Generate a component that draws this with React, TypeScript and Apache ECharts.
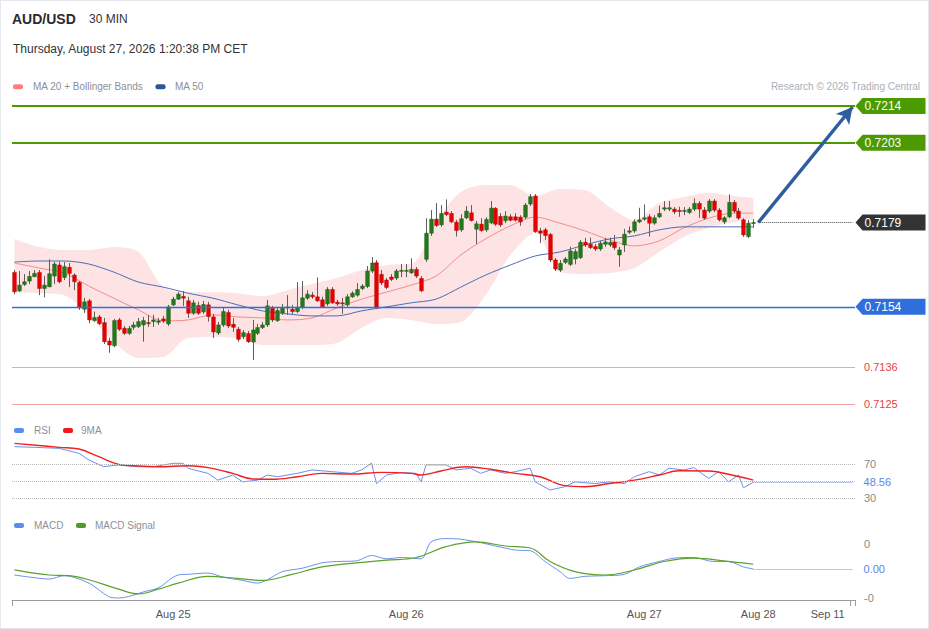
import React, { useEffect, useRef } from "react";
import * as echarts from "echarts";

const FONT = "'Liberation Sans', Arial, Helvetica, sans-serif";

// x slots (30-minute candles plus the projection area on the right)
const SLOT_COUNT = 170;
const DATE_TICKS: [number, string][] = [
  [32, "Aug 25"],
  [79, "Aug 26"],
  [127, "Aug 27"],
  [150, "Aug 28"],
  [164, "Sep 11"],
];

// AUD/USD 30 min candles
const OPEN = [
  0.71643, 0.71588, 0.71607, 0.71617, 0.7163, 0.71643, 0.71595, 0.716, 0.71632, 0.71665,
  0.71628, 0.71658, 0.71635, 0.71613, 0.71533, 0.71558, 0.71499, 0.7151, 0.71493, 0.71438,
  0.71424, 0.71501, 0.71476, 0.71461, 0.71479, 0.71481, 0.71486, 0.71493, 0.71496, 0.71494,
  0.71504, 0.71489, 0.71546, 0.71563, 0.71571, 0.71558, 0.71521, 0.71544, 0.71525, 0.71546,
  0.7151, 0.71462, 0.71486, 0.71523, 0.71488, 0.71473, 0.71451, 0.7146, 0.71435, 0.71461,
  0.71478, 0.71486, 0.71536, 0.71499, 0.71522, 0.71538, 0.71533, 0.71526, 0.71539, 0.71566,
  0.71575, 0.7157, 0.71561, 0.71549, 0.71592, 0.71554, 0.71552, 0.71546, 0.7157, 0.71575,
  0.71595, 0.71601, 0.71647, 0.71672, 0.71637, 0.7162, 0.71629, 0.71626, 0.71647, 0.71647,
  0.71642, 0.71652, 0.71625, 0.71682, 0.7176, 0.71802, 0.71785, 0.71823, 0.71819, 0.71793,
  0.7177, 0.71806, 0.71821, 0.71772, 0.71787, 0.7177, 0.71791, 0.71834, 0.7181, 0.71797,
  0.71809, 0.71809, 0.71808, 0.71808, 0.71847, 0.71871, 0.71767, 0.7177, 0.71756, 0.7168,
  0.7165, 0.71673, 0.71667, 0.71683, 0.71687, 0.71733, 0.71727, 0.7172, 0.71713, 0.71727,
  0.71725, 0.71733, 0.71695, 0.71725, 0.71763, 0.71767, 0.71794, 0.71802, 0.71809, 0.7179,
  0.71809, 0.71832, 0.71832, 0.71832, 0.71828, 0.71826, 0.71822, 0.71832, 0.71849, 0.71829,
  0.71826, 0.71856, 0.71829, 0.71794, 0.71809, 0.71852, 0.71826, 0.718, 0.7175, 0.71789,
];
const HIGH = [
  0.7165, 0.71647, 0.71638, 0.71647, 0.7165, 0.7165, 0.71632, 0.71682, 0.71674, 0.71675,
  0.71674, 0.71671, 0.7164, 0.71617, 0.71567, 0.71564, 0.71526, 0.71516, 0.71507, 0.71447,
  0.71504, 0.71507, 0.71483, 0.71483, 0.71495, 0.71507, 0.7151, 0.71516, 0.71516, 0.71507,
  0.71513, 0.71546, 0.7157, 0.71584, 0.71587, 0.7157, 0.71561, 0.71555, 0.71558, 0.71555,
  0.71519, 0.71495, 0.71537, 0.71531, 0.71507, 0.7148, 0.71471, 0.71468, 0.71501, 0.71489,
  0.71495, 0.71561, 0.71543, 0.71537, 0.71549, 0.71575, 0.71546, 0.71614, 0.71617, 0.7159,
  0.71584, 0.71628, 0.7157, 0.71599, 0.71599, 0.71561, 0.71567, 0.71578, 0.71587, 0.71611,
  0.71608, 0.71662, 0.71689, 0.7168, 0.7165, 0.71626, 0.71638, 0.71653, 0.71668, 0.71668,
  0.71685, 0.71659, 0.71632, 0.71805, 0.71829, 0.7185, 0.71844, 0.71861, 0.71826, 0.718,
  0.71817, 0.71841, 0.71844, 0.71797, 0.71805, 0.71808, 0.71856, 0.71838, 0.7182, 0.71826,
  0.71817, 0.7182, 0.71814, 0.7185, 0.71877, 0.71877, 0.71776, 0.71776, 0.71761, 0.71686,
  0.7168, 0.71689, 0.7172, 0.71713, 0.7174, 0.71746, 0.71747, 0.71728, 0.71737, 0.71746,
  0.71747, 0.71755, 0.71719, 0.71773, 0.7178, 0.71802, 0.71836, 0.71846, 0.71817, 0.71814,
  0.71842, 0.71856, 0.71856, 0.71838, 0.71839, 0.71838, 0.71838, 0.71864, 0.71856, 0.71838,
  0.71862, 0.71862, 0.71835, 0.71811, 0.71876, 0.71859, 0.71835, 0.71805, 0.71799, 0.71802,
];
const LOW = [
  0.71578, 0.71584, 0.71602, 0.71608, 0.71629, 0.71575, 0.71568, 0.71599, 0.71608, 0.7161,
  0.7162, 0.71599, 0.7159, 0.71531, 0.71522, 0.71491, 0.71495, 0.71486, 0.71429, 0.71403,
  0.7142, 0.71468, 0.71456, 0.71456, 0.71471, 0.71477, 0.71436, 0.7148, 0.7148, 0.71486,
  0.71492, 0.71483, 0.71543, 0.71561, 0.71543, 0.71507, 0.71516, 0.71516, 0.71519, 0.71496,
  0.71447, 0.71456, 0.7148, 0.71477, 0.71465, 0.71436, 0.71444, 0.71432, 0.71381, 0.71456,
  0.71474, 0.7148, 0.71495, 0.71495, 0.71516, 0.71516, 0.71519, 0.71522, 0.71533, 0.71561,
  0.71564, 0.71555, 0.71537, 0.71543, 0.71549, 0.71543, 0.71519, 0.7154, 0.71567, 0.7157,
  0.7159, 0.71596, 0.71641, 0.71533, 0.71605, 0.71593, 0.71617, 0.7162, 0.71629, 0.71629,
  0.71638, 0.71626, 0.71584, 0.71674, 0.71752, 0.71779, 0.71779, 0.71811, 0.7179, 0.7175,
  0.71764, 0.71802, 0.71795, 0.71728, 0.71764, 0.71764, 0.71787, 0.71782, 0.71779, 0.7179,
  0.71795, 0.71795, 0.71782, 0.71802, 0.71841, 0.71761, 0.71731, 0.7174, 0.71674, 0.71647,
  0.71644, 0.71668, 0.71662, 0.71667, 0.71683, 0.71719, 0.71713, 0.71707, 0.71707, 0.71719,
  0.71719, 0.7171, 0.7166, 0.71704, 0.71758, 0.71761, 0.7179, 0.71797, 0.7175, 0.71785,
  0.71805, 0.71826, 0.71826, 0.71817, 0.71809, 0.71814, 0.71817, 0.71826, 0.71806, 0.718,
  0.7182, 0.71823, 0.71795, 0.71787, 0.71805, 0.7182, 0.718, 0.71749, 0.71746, 0.71776,
];
const CLOSE = [
  0.71585, 0.71605, 0.71615, 0.71631, 0.7164, 0.71595, 0.71605, 0.71639, 0.71668, 0.71615,
  0.7166, 0.7164, 0.71615, 0.71537, 0.71555, 0.71501, 0.71508, 0.7149, 0.71436, 0.71426,
  0.71499, 0.71473, 0.71461, 0.71476, 0.71486, 0.71496, 0.71499, 0.71492, 0.71501, 0.71498,
  0.71498, 0.7154, 0.71563, 0.71578, 0.71566, 0.71521, 0.71552, 0.71521, 0.71547, 0.71511,
  0.71465, 0.71486, 0.71526, 0.71483, 0.71479, 0.71443, 0.71463, 0.71436, 0.71471, 0.71478,
  0.71486, 0.71543, 0.71501, 0.71529, 0.71538, 0.7154, 0.71526, 0.71539, 0.71567, 0.71578,
  0.7157, 0.71558, 0.7154, 0.71592, 0.71552, 0.71549, 0.7155, 0.7157, 0.71581, 0.71592,
  0.71602, 0.71647, 0.71671, 0.71539, 0.71612, 0.71598, 0.71622, 0.71647, 0.71649, 0.71649,
  0.71652, 0.71632, 0.71588, 0.7176, 0.71802, 0.71783, 0.71819, 0.71816, 0.71794, 0.71768,
  0.71803, 0.71826, 0.71798, 0.71788, 0.71768, 0.71801, 0.71835, 0.71787, 0.71785, 0.71811,
  0.71799, 0.71799, 0.71794, 0.71844, 0.71869, 0.71765, 0.7176, 0.71753, 0.7168, 0.71653,
  0.7167, 0.71683, 0.71707, 0.71705, 0.71733, 0.71725, 0.71717, 0.71713, 0.7173, 0.71734,
  0.71733, 0.71717, 0.7171, 0.71757, 0.71767, 0.71794, 0.718, 0.71806, 0.7179, 0.71806,
  0.71819, 0.71836, 0.71836, 0.71824, 0.71825, 0.71828, 0.71832, 0.71849, 0.71832, 0.71805,
  0.71856, 0.71829, 0.718, 0.71806, 0.71852, 0.71826, 0.71805, 0.71755, 0.7179, 0.71792,
];

// Bollinger bands / moving averages, read every 5 candles
const BAND_IDX = [0, 5, 10, 15, 20, 25, 30, 35, 40, 45, 50, 55, 60, 65, 70, 75, 80, 85, 90, 95, 100, 105, 110, 115, 120, 125, 130, 135, 140, 145, 149];
const BB_UPPER = [0.71743, 0.71719, 0.7171, 0.7171, 0.71719, 0.71704, 0.71599, 0.71584, 0.71584, 0.71581, 0.71572, 0.7159, 0.71608, 0.71626, 0.7165, 0.71665, 0.71668, 0.71794, 0.71883, 0.71904, 0.71904, 0.71871, 0.71892, 0.71889, 0.71838, 0.71799, 0.7185, 0.71868, 0.7188, 0.71871, 0.71865];
const BB_LOWER = [0.71584, 0.71581, 0.71575, 0.71516, 0.71435, 0.71387, 0.7139, 0.71447, 0.7145, 0.71447, 0.71426, 0.71426, 0.71426, 0.71432, 0.71477, 0.71507, 0.71501, 0.71489, 0.71495, 0.71575, 0.71695, 0.71761, 0.71644, 0.71638, 0.71641, 0.71656, 0.71704, 0.71749, 0.71776, 0.71793, 0.71802];
const MA20 = [0.71671, 0.71656, 0.71641, 0.71602, 0.71566, 0.71531, 0.71498, 0.71501, 0.71516, 0.7151, 0.71507, 0.71501, 0.71507, 0.71537, 0.71563, 0.71584, 0.71605, 0.71632, 0.71695, 0.71743, 0.71782, 0.71808, 0.7179, 0.71767, 0.7174, 0.71722, 0.71737, 0.71776, 0.71805, 0.7182, 0.7182];
const MA50 = [0.71674, 0.71677, 0.71677, 0.71668, 0.71644, 0.71614, 0.71599, 0.71581, 0.71566, 0.71546, 0.71528, 0.71519, 0.71513, 0.71513, 0.71528, 0.7154, 0.71552, 0.71563, 0.71599, 0.71635, 0.71665, 0.71692, 0.71704, 0.71725, 0.71743, 0.71752, 0.7177, 0.71779, 0.71779, 0.71779, 0.71779];

// RSI panel
const RSI_IDX = [0, 4, 9, 13, 15, 18, 21, 25, 28, 32, 34, 35, 39, 41, 44, 46, 49, 51, 53, 57, 60, 64, 68, 70, 72, 73, 75, 78, 81, 82, 83, 87, 89, 92, 94, 96, 99, 101, 104, 105, 108, 111, 113, 117, 120, 123, 125, 128, 130, 132, 135, 137, 140, 142, 144, 146, 147, 149];
const RSI_VAL = [90.4, 89.6, 88.4, 82.6, 74.7, 66.9, 68.8, 66.8, 66.8, 70.8, 70.8, 65, 59, 51, 57, 49, 51, 57, 55, 59, 63, 61, 59, 63, 71, 47, 57, 60, 59, 49, 69, 69, 63, 65, 59, 63, 59, 61, 65, 49, 39.4, 43.3, 49, 47, 49, 47, 55, 61, 57, 65, 63, 65.7, 53, 61, 49, 57, 42, 48.56];
const RSI_MA_IDX = [0, 9, 13, 17, 21, 25, 29, 35, 39, 44, 48, 52, 57, 62, 68, 74, 80, 82, 86, 91, 96, 101, 106, 111, 115, 120, 125, 130, 134, 140, 144, 149];
const RSI_MA_VAL = [94.3, 89.6, 87.6, 78.6, 69.6, 67.6, 66.8, 68, 65.7, 59, 52.4, 52, 55, 59, 58.2, 60.2, 59, 57, 61.8, 66.8, 63.8, 59, 55, 44.5, 43.3, 47, 51, 57, 62, 61.8, 57.9, 51];
const RSI_LEVELS = [70, 50, 30];
const RSI_TICKS = [30, 70];

// MACD panel
const MACD_IDX = [0, 3, 7, 10, 15, 19, 21, 23, 26, 29, 33, 35, 39, 42, 46, 49, 51, 54, 58, 62, 65, 69, 72, 75, 78, 82, 84, 87, 90, 94, 97, 101, 104, 107, 110, 112, 115, 119, 123, 126, 130, 133, 137, 141, 144, 147, 149];
const MACD_VAL = [-0.00006, -0.00009, -0.00012, -0.00007, -0.00018, -0.00038, -0.0004, -0.00038, -0.00031, -0.00025, -0.00006, -0.00005, -0.00003, -0.00009, -0.00014, -0.00018, -0.00013, -0.00001, 0.00004, 0.00012, 0.00014, 0.00015, 0.00023, 0.00018, 0.0002, 0.00018, 0.00043, 0.00048, 0.00047, 0.00042, 0.00037, 0.00031, 0.0003, 0.00014, -0.00001, -0.00011, -0.00008, -0.00007, -0.00005, 0.00006, 0.00014, 0.00019, 0.0002, 0.00014, 0.00014, 0.00006, 0.00003];
const SIGNAL_IDX = [0, 7, 11, 15, 21, 25, 29, 33, 39, 45, 50, 56, 62, 69, 75, 81, 87, 93, 99, 104, 108, 113, 119, 125, 131, 137, 143, 149];
const SIGNAL_VAL = [0.000015, -0.00006, -0.00007, -0.00013, -0.00027, -0.00034, -0.00027, -0.00018, -0.00008, -0.00011, -0.00014, -0.00005, 0.00006, 0.00012, 0.00016, 0.0002, 0.00036, 0.00043, 0.00037, 0.00034, 0.00014, -0.00001, -0.00006, 0.000015, 0.00014, 0.00019, 0.00015, 0.0001];
const MACD_TICKS = [-0.0004, 0.0004];

// key levels
const RESISTANCES = [0.7214, 0.7203];
const PIVOT = 0.7154;
const SUPPORTS = [0.7136, 0.7125];
const TARGET = 0.7214;

const GREEN_LEVEL = "#4a9a00";
const BLUE_LEVEL = "#2f6fdc";
const CANDLE_UP = "#237a1b";
const CANDLE_DOWN = "#e60000";
const WICK = "#5e5e5e";
const TAG_PATH = "path://M0,8L7,0L70,0L70,16L7,16Z";

const pairs = (idx: number[], vals: number[]) => idx.map((x, k) => [x, vals[k]]);

function buildOption(): any {
  const categories = Array.from({ length: SLOT_COUNT }, (_, i) => {
    const t = DATE_TICKS.find((d) => d[0] === i);
    return t ? t[1] : "";
  });
  const lastIndex = CLOSE.length - 1;
  const lastPrice = CLOSE[lastIndex];
  const futureEnd = SLOT_COUNT - 1;
  const rsiLast = RSI_VAL[RSI_VAL.length - 1];
  const macdLast = MACD_VAL[MACD_VAL.length - 1];
  const candleData = OPEN.map((o, i) => [i, o, CLOSE[i], LOW[i], HIGH[i]]);

  const baseX = (gi: number) => ({
    type: "category",
    gridIndex: gi,
    data: categories,
    boundaryGap: true,
    axisLine: { show: false, onZero: false },
    axisTick: { show: false },
    axisLabel: { show: false },
    splitLine: { show: false },
  });

  const renderCandle = (params: any, api: any) => {
    const i = api.value(0);
    const o = api.value(1);
    const c = api.value(2);
    const l = api.value(3);
    const h = api.value(4);
    const pO = api.coord([i, o]);
    const pC = api.coord([i, c]);
    const pL = api.coord([i, l]);
    const pH = api.coord([i, h]);
    const bw = api.size([1, 0])[0] * 0.74;
    const x = Math.round(pO[0]) + 0.5;
    const top = Math.min(pO[1], pC[1]);
    const height = Math.max(Math.abs(pO[1] - pC[1]), 1);
    const up = c >= o;
    return {
      type: "group",
      children: [
        { type: "line", shape: { x1: x, y1: pH[1], x2: x, y2: pL[1] }, style: { stroke: WICK, lineWidth: 1 } },
        {
          type: "rect",
          shape: { x: x - bw / 2, y: top, width: bw, height },
          style: { fill: up ? CANDLE_UP : CANDLE_DOWN, stroke: up ? "#1a5c14" : "#b80000", lineWidth: 0.5 },
        },
      ],
    };
  };

  const txt = (text: string, x: number, y: number, size: number, fill: string, extra: any = {}) => ({
    type: "text",
    x,
    y,
    silent: true,
    style: { text, fill, fontSize: size, fontFamily: FONT, verticalAlign: "middle", align: "left", ...extra },
  });
  const swatch = (x: number, y: number, fill: string) => ({
    type: "rect",
    x,
    y,
    silent: true,
    shape: { x: 0, y: 0, width: 10, height: 5, r: 2 },
    style: { fill },
  });

  const tag = (price: number, color: string) => ({
    coord: [futureEnd, price],
    itemStyle: { color },
    label: { formatter: price.toFixed(4) },
  });

  const levelLines = [
    ...RESISTANCES.map((r) => ({ yAxis: r, lineStyle: { color: GREEN_LEVEL, width: 2, type: "solid" } })),
    { yAxis: PIVOT, lineStyle: { color: BLUE_LEVEL, width: 1.4, type: "solid" } },
    ...SUPPORTS.map((s) => ({
      yAxis: s,
      lineStyle: { color: "#f5a3a3", width: 1, type: "solid" },
      label: {
        show: true,
        position: "end",
        distance: 9,
        formatter: s.toFixed(4),
        color: "#e5443f",
        fontSize: 11,
        fontFamily: FONT,
      },
    })),
    [
      { coord: [lastIndex + 1, lastPrice], lineStyle: { color: "#444", width: 1, type: "dotted" } },
      { coord: [futureEnd, lastPrice] },
    ],
    [
      { coord: [lastIndex + 1, lastPrice], lineStyle: { color: "#2d5f9e", width: 3.5, type: "solid" } },
      { coord: [futureEnd - 0.2, TARGET - 0.00003], symbol: "arrow", symbolSize: [13, 16] },
    ],
  ];

  return {
    animation: false,
    backgroundColor: "#ffffff",
    textStyle: { fontFamily: FONT },
    grid: [
      { left: 12, top: 99.3, width: 843, height: 314.7 },
      { left: 12, top: 438.5, width: 843, height: 76.5 },
      { left: 12, top: 530, width: 843, height: 70 },
    ],
    xAxis: [
      baseX(0),
      baseX(1),
      {
        ...baseX(2),
        axisLine: { show: true, onZero: false, lineStyle: { color: "#9c9c9c", width: 1 } },
        axisTick: {
          show: true,
          length: 6,
          interval: (i: number) => i === 0 || i === SLOT_COUNT - 1,
          lineStyle: { color: "#9c9c9c" },
        },
        axisLabel: { show: true, interval: 0, color: "#555", fontSize: 11, margin: 8, fontFamily: FONT },
      },
    ],
    yAxis: [
      {
        type: "value",
        gridIndex: 0,
        min: 0.7122,
        max: 0.7216,
        axisLine: { show: false },
        axisTick: { show: false },
        axisLabel: { show: false },
        splitLine: { show: false },
      },
      {
        type: "value",
        gridIndex: 1,
        min: 10,
        max: 100,
        position: "right",
        axisLine: { show: false },
        axisTick: { show: false },
        splitLine: { show: false },
        axisLabel: { customValues: RSI_TICKS, color: "#888", fontSize: 11, margin: 9, fontFamily: FONT },
      },
      {
        type: "value",
        gridIndex: 2,
        min: -0.00043,
        max: 0.000607,
        position: "right",
        axisLine: { show: false },
        axisTick: { show: false },
        splitLine: { show: false },
        axisLabel: {
          customValues: MACD_TICKS,
          formatter: (v: number) => v.toFixed(0),
          color: "#888",
          fontSize: 11,
          margin: 9,
          fontFamily: FONT,
        },
      },
    ],
    series: [
      {
        name: "BB lower",
        type: "line",
        xAxisIndex: 0,
        yAxisIndex: 0,
        data: pairs(BAND_IDX, BB_LOWER),
        stack: "bb",
        smooth: 0.3,
        symbol: "none",
        silent: true,
        lineStyle: { opacity: 0 },
        z: 1,
      },
      {
        name: "BB width",
        type: "line",
        xAxisIndex: 0,
        yAxisIndex: 0,
        data: pairs(BAND_IDX, BB_UPPER.map((u, k) => u - BB_LOWER[k])),
        stack: "bb",
        smooth: 0.3,
        symbol: "none",
        silent: true,
        lineStyle: { opacity: 0 },
        areaStyle: { color: "#fde3e3", opacity: 1 },
        z: 1,
      },
      {
        name: "MA 20 + Bollinger Bands",
        type: "line",
        xAxisIndex: 0,
        yAxisIndex: 0,
        data: pairs(BAND_IDX, MA20),
        smooth: 0.3,
        symbol: "none",
        silent: true,
        lineStyle: { color: "#f28b8b", width: 1 },
        z: 2,
      },
      {
        name: "MA 50",
        type: "line",
        xAxisIndex: 0,
        yAxisIndex: 0,
        data: pairs(BAND_IDX, MA50),
        smooth: 0.3,
        symbol: "none",
        silent: true,
        lineStyle: { color: "#4a6db3", width: 1 },
        z: 2,
        markLine: {
          silent: true,
          z: 6,
          precision: 6,
          symbol: ["none", "none"],
          label: { show: false },
          data: levelLines,
        },
        markPoint: {
          silent: true,
          z: 7,
          symbol: TAG_PATH,
          symbolSize: [70, 16],
          symbolOffset: [38, 0],
          label: {
            show: true,
            position: [9, 8],
            align: "left",
            verticalAlign: "middle",
            color: "#ffffff",
            fontSize: 12,
            fontFamily: FONT,
          },
          data: [
            tag(RESISTANCES[0], GREEN_LEVEL),
            tag(RESISTANCES[1], GREEN_LEVEL),
            tag(lastPrice, "#333333"),
            tag(PIVOT, BLUE_LEVEL),
          ],
        },
      },
      {
        name: "AUD/USD",
        type: "custom",
        xAxisIndex: 0,
        yAxisIndex: 0,
        data: candleData,
        encode: { x: 0, y: [1, 2, 3, 4] },
        renderItem: renderCandle,
        silent: true,
        z: 3,
      },
      {
        name: "RSI",
        type: "line",
        xAxisIndex: 1,
        yAxisIndex: 1,
        data: pairs(RSI_IDX, RSI_VAL),
        symbol: "none",
        silent: true,
        lineStyle: { color: "#6a92ea", width: 1 },
        z: 3,
        markLine: {
          silent: true,
          precision: 4,
          symbol: ["none", "none"],
          label: { show: false },
          data: [
            ...RSI_LEVELS.map((v) => ({ yAxis: v, lineStyle: { color: "#b8b8b8", width: 1, type: "dotted" } })),
            [
              { coord: [lastIndex, rsiLast], lineStyle: { color: "#6a92ea", width: 1, type: "dotted" } },
              {
                coord: [futureEnd, rsiLast],
                label: {
                  show: true,
                  position: "end",
                  distance: 11,
                  formatter: rsiLast.toFixed(2),
                  color: "#5a86e6",
                  fontSize: 11,
                  fontFamily: FONT,
                },
              },
            ],
          ],
        },
      },
      {
        name: "9MA",
        type: "line",
        xAxisIndex: 1,
        yAxisIndex: 1,
        data: pairs(RSI_MA_IDX, RSI_MA_VAL),
        smooth: 0.4,
        symbol: "none",
        silent: true,
        lineStyle: { color: "#f02020", width: 1.4 },
        z: 4,
      },
      {
        name: "MACD",
        type: "line",
        xAxisIndex: 2,
        yAxisIndex: 2,
        data: pairs(MACD_IDX, MACD_VAL),
        smooth: 0.3,
        symbol: "none",
        silent: true,
        lineStyle: { color: "#6a92ea", width: 1 },
        z: 3,
        markLine: {
          silent: true,
          precision: 8,
          symbol: ["none", "none"],
          label: { show: false },
          data: [
            [
              { coord: [lastIndex, macdLast], lineStyle: { color: "#6a92ea", width: 1, type: "dotted" } },
              {
                coord: [futureEnd, macdLast],
                label: {
                  show: true,
                  position: "end",
                  distance: 11,
                  formatter: macdLast.toFixed(2),
                  color: "#5a86e6",
                  fontSize: 11,
                  fontFamily: FONT,
                },
              },
            ],
          ],
        },
      },
      {
        name: "MACD Signal",
        type: "line",
        xAxisIndex: 2,
        yAxisIndex: 2,
        data: pairs(SIGNAL_IDX, SIGNAL_VAL),
        smooth: 0.4,
        symbol: "none",
        silent: true,
        lineStyle: { color: "#5aa02a", width: 1.2 },
        z: 4,
      },
    ],
    graphic: [
      txt("AUD/USD", 12, 19, 14, "#2b2b2b", { fontWeight: "bold" }),
      txt("30 MIN", 89, 19, 12, "#333"),
      txt("Thursday, August 27, 2026 1:20:38 PM CET", 13, 48.5, 12, "#333"),
      swatch(13, 84.3, "#ff7f7f"),
      txt("MA 20 + Bollinger Bands", 33, 86.7, 10, "#8b909c"),
      swatch(155.5, 84.3, "#2f5597"),
      txt("MA 50", 175, 86.7, 10, "#8b909c"),
      txt("Research \u00a9 2026 Trading Central", 920, 86.7, 10, "#a9afb7", { align: "right" }),
      swatch(14, 428, "#5b8def"),
      txt("RSI", 34, 430.5, 10, "#8b909c"),
      swatch(63, 428, "#f01818"),
      txt("9MA", 81, 430.5, 10, "#8b909c"),
      swatch(14, 523, "#5b8def"),
      txt("MACD", 34, 525.5, 10, "#8b909c"),
      swatch(76, 523, "#4f9a20"),
      txt("MACD Signal", 95, 525.5, 10, "#8b909c"),
    ],
  };
}

export default function App() {
  const ref = useRef<HTMLDivElement>(null);
  useEffect(() => {
    if (!ref.current) return;
    const chart = echarts.init(ref.current, undefined, { renderer: "svg" });
    chart.setOption(buildOption());
    return () => chart.dispose();
  }, []);
  return (
    <div style={{ position: "absolute", left: 0, top: 0, width: 929, height: 629 }}>
      <div ref={ref} style={{ width: 929, height: 629 }} />
      <div
        style={{
          position: "absolute",
          left: 0,
          top: 0,
          width: 929,
          height: 629,
          boxSizing: "border-box",
          border: "1px solid #e4e8ee",
          pointerEvents: "none",
        }}
      />
    </div>
  );
}
